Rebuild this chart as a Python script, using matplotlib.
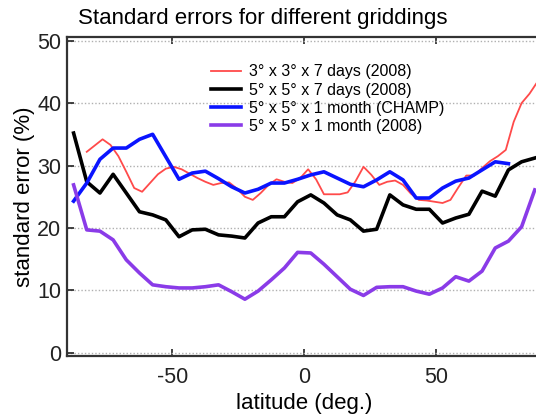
import numpy as np
import matplotlib
matplotlib.use("Agg")
import matplotlib.pyplot as plt

plt.rcParams['font.family'] = ['Liberation Sans', 'DejaVu Sans']
plt.rcParams['axes.unicode_minus'] = False

# latitude grids
lat5 = np.arange(-87.5, 88, 5.0)          # 36 bins (5 deg)
lat5_champ = np.arange(-87.5, 78, 5.0)    # 34 bins (CHAMP)
lat3 = np.arange(-82.5, 89, 3.0)          # 3 deg bins

red_3x3_7d = [32.2, 33.2, 34.2, 33.3, 31.5, 29.0, 26.4, 25.8, 27.2, 28.6,
              29.5, 29.8, 29.4, 28.7, 28.0, 27.4, 26.9, 27.2, 27.3, 26.3,
              25.0, 24.5, 25.6, 26.9, 27.8, 27.4, 27.2, 28.0, 29.4, 27.8,
              25.4, 25.4, 25.4, 25.7, 27.5, 29.8, 28.5, 26.9, 27.4, 27.6,
              26.9, 25.5, 24.5, 24.4, 24.2, 24.0, 24.5, 26.5, 28.4, 28.4,
              29.6, 30.7, 31.5, 32.5, 37.0, 40.0, 41.5, 43.4]

black_5x5_7d = [35.2, 27.4, 25.6, 28.6, 25.6, 22.6, 22.1, 21.3, 18.6, 19.7,
                19.8, 18.9, 18.7, 18.4, 20.8, 21.8, 21.8, 24.2, 25.3, 24.0,
                22.1, 21.3, 19.5, 19.8, 25.3, 23.7, 23.0, 23.0, 20.8, 21.6,
                22.2, 25.9, 25.1, 29.3, 30.6, 31.2]

blue_5x5_1m_champ = [24.3, 27.2, 31.0, 32.8, 32.8, 34.2, 35.0, 31.4, 27.8, 28.8,
                     29.1, 27.9, 26.6, 25.6, 26.2, 27.2, 27.2, 27.8, 28.5, 29.0,
                     28.0, 27.0, 26.6, 27.7, 29.0, 27.7, 24.8, 24.8, 26.4, 27.5,
                     28.0, 29.3, 30.6, 30.3]

purple_5x5_1m = [26.9, 19.7, 19.5, 18.1, 14.9, 12.8, 10.9, 10.6, 10.4, 10.4,
                 10.6, 10.9, 9.8, 8.6, 9.9, 11.7, 13.6, 16.1, 16.0, 14.2,
                 12.2, 10.2, 9.2, 10.5, 10.6, 10.6, 9.9, 9.4, 10.4, 12.2,
                 11.5, 13.1, 16.8, 17.9, 20.2, 26.1]

labels = ["3° x 3° x 7 days (2008)", "5° x 5° x 7 days (2008)",
          "5° x 5° x 1 month (CHAMP)", "5° x 5° x 1 month (2008)"]
title = "Standard errors for different griddings"
xticks = [-50, 0, 50]
yticks = [0, 10, 20, 30, 40, 50]

fig = plt.figure(figsize=(5.36, 4.19), dpi=100)
ax = fig.add_axes([0.125, 0.151, 0.886, 0.761])

ax.plot(lat3, red_3x3_7d, color='#ff4a4a', lw=1.3, label=labels[0])
ax.plot(lat5, black_5x5_7d, color='black', lw=2.6, label=labels[1])
ax.plot(lat5_champ, blue_5x5_1m_champ, color='#0a14ff', lw=2.6, label=labels[2])
ax.plot(lat5, purple_5x5_1m, color='#8a3be8', lw=2.6, label=labels[3])

ax.set_xlim(-90, 90.2)
ax.set_ylim(-0.45, 50.6)
ax.set_xticks(xticks)
ax.set_yticks(yticks)
ax.yaxis.grid(True, linestyle=(0, (1, 1.5)), color='#b0b0b0', lw=1.0)
ax.set_axisbelow(True)
ax.tick_params(direction='in', labelsize=15.5, length=5, width=1.2,
               top=True, right=False, pad=8, colors='#222222')
ax.tick_params(axis='y', pad=4)
for s in ax.spines.values():
    s.set_linewidth(1.6)
    s.set_color('#333333')

ax.set_xlabel("latitude (deg.)", fontsize=16, labelpad=4)
ax.set_ylabel("standard error (%)", fontsize=16, labelpad=2)
fig.text(0.49, 0.955, title, fontsize=16, ha='center', va='center')

ax.legend(loc='upper left', bbox_to_anchor=(0.29, 0.934), frameon=False,
          fontsize=11.5, handlelength=1.9, handletextpad=0.45,
          labelspacing=0.2, borderaxespad=0)

fig.savefig("out.png", dpi=100)
